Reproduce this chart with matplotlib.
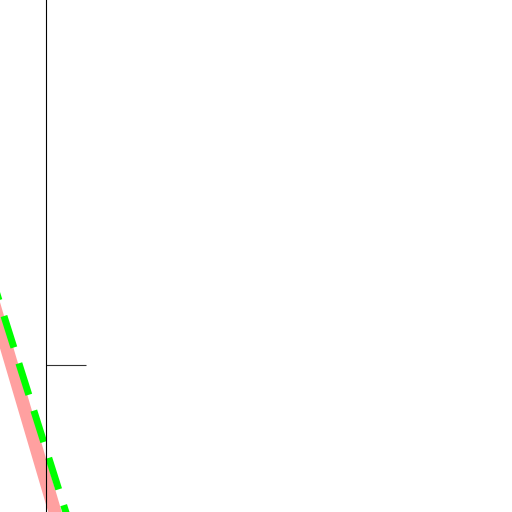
import matplotlib
matplotlib.use("Agg")
import numpy as np
import matplotlib.pyplot as plt
from matplotlib.path import Path
from matplotlib.patches import PathPatch

# two straight lines (data units)
pink_x = [-1.5, 0.3]
pink_y = [2.56, -3.55]
green_x = [-1.2, 0.6]
green_y = [1.97, -3.73]
ytick_vals = [0]

fig = plt.figure(figsize=(5.12, 5.12), dpi=100)
ax = fig.add_axes([0, 0, 1, 1])

# drawn as (zero-area) path patches so agg does not cut the stroke at the canvas edge
pink = PathPatch(Path(np.column_stack([pink_x, pink_y])),
                 facecolor='#ffa0a0', edgecolor='#ffa0a0', lw=9.4,
                 capstyle='butt', zorder=2)
green = PathPatch(Path(np.column_stack([green_x, green_y])),
                  facecolor='#00ff00', edgecolor='#00ff00', lw=5,
                  linestyle=(0.85, (4.75, 2.39)), capstyle='butt', zorder=2.1)
ax.add_patch(pink)
ax.add_patch(green)

ax.set_xlim(-1, 10.13)
ax.set_ylim(-3.196, 7.935)

for side in ['top', 'right', 'bottom']:
    ax.spines[side].set_visible(False)
ax.spines['left'].set_position(('data', 0))
ax.spines['left'].set_color('black')

ax.set_xticks([])
ax.set_yticks(ytick_vals)
ax.set_yticklabels([])
ax.tick_params(axis='y', direction='in', length=28.8, width=0.8, color='#333333')

fig.savefig('out.png', dpi=100)
